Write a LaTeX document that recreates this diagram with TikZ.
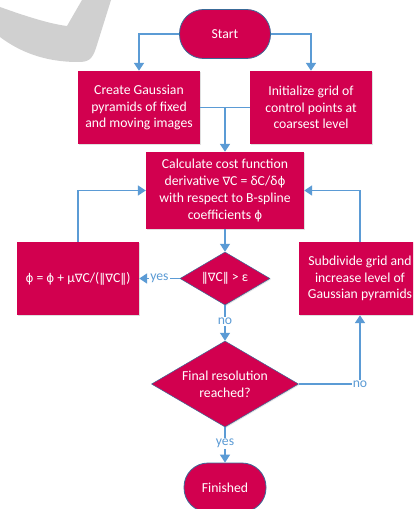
\documentclass[tikz,border=0pt]{standalone}
\usepackage{fontspec}
\setmainfont{Carlito}
\newfontfamily\symf{DejaVu Sans}
\usetikzlibrary{arrows.meta,shapes.geometric,shadows}
\definecolor{mag}{HTML}{D2004F}
\definecolor{arrowblue}{HTML}{5B9BD5}
\definecolor{edgeblue}{HTML}{3A6A98}
\definecolor{wmgray}{HTML}{D0D0D0}
\newcommand{\nab}{{\symf\fontsize{11.5bp}{14bp}\selectfont ∇}}
\newcommand{\nrm}{{\symf\fontsize{12bp}{14bp}\selectfont ‖}}
\newcommand{\phis}{{\symf\fontsize{12bp}{14bp}\selectfont ϕ}}
\tikzset{
  every node/.style={font=\fontsize{13.7bp}{16.7bp}\selectfont},
  procbox/.style={rectangle, fill=mag, text=white, align=center, inner sep=0pt,
     minimum width=122bp, minimum height=73bp,
     drop shadow={shadow xshift=1.2bp, shadow yshift=-1.2bp, opacity=0.25}},
  termbox/.style={rectangle, rounded corners=24bp, fill=mag, draw=edgeblue, line width=0.8bp,
     text=white, inner sep=0pt, minimum height=49bp},
  decbox/.style={diamond, fill=mag, draw=edgeblue, line width=0.5bp, inner sep=0pt,
     drop shadow={shadow xshift=1bp, shadow yshift=-1bp, opacity=0.2}},
  dectext/.style={text=white, align=center, inner sep=0pt},
  conn/.style={draw=arrowblue, line width=1.6bp, -{Triangle[width=10bp,length=8bp]}},
  plainconn/.style={draw=arrowblue, line width=1.6bp},
  lbl/.style={text=arrowblue, fill=white, inner sep=1bp}
}
\begin{document}
\begin{tikzpicture}[x=1bp,y=-1bp]
\clip (0,0) rectangle (413,509);
\fill[white] (0,0) rectangle (413,509);
% watermark
\fill[wmgray] (0,7) .. controls (25,16) and (50,24) .. (67,26) -- (82,0) -- (111,0)
  -- (96,48) .. controls (92,60) and (88,62) .. (78,62)
  .. controls (45,62) and (20,52) .. (0,37) -- cycle;

\node[termbox, minimum width=91bp] (start) at (225,34) {Start};
\node[procbox] (create) at (139,107.5) {Create Gaussian\\pyramids of fixed\\and moving images};
\node[procbox] (init) at (311,107.5) {Initialize grid of\\control points at\\coarsest level};
\node[procbox, minimum width=158bp, minimum height=77bp] (calc) at (225,190.5)
  {Calculate cost function\\derivative \nab C = δC/δ\phis\\with respect to B-spline\\coefficients \phis};
\node[decbox, minimum width=90bp, minimum height=53bp] (d1) at (225,278.5) {};
\node[dectext] at (d1) {\nrm\nab C\nrm{} > ε};
\node[procbox] (upd) at (78,278.5) {\phis{} = \phis{} + μ\nab C/(\nrm\nab C\nrm)};
\node[procbox] (sub) at (360,278.5) {Subdivide grid and\\increase level of\\Gaussian pyramids};
\node[decbox, minimum width=147bp, minimum height=86bp] (d2) at (225,384) {};
\node[dectext] at (d2) {Final resolution\\reached?};
\node[termbox, minimum width=82bp] (fin) at (225,487.5) {Finished};

\draw[conn] (start.west) -| (create.north);
\draw[conn] (start.east) -| (init.north);
\draw[plainconn] (create.east) -- (init.west);
\draw[conn] (create.east -| calc.north) -- (calc.north);
\draw[conn] (calc.south) -- (d1.north);
\draw[conn] (d1.west) -- node[lbl] {yes} (upd.east);
\draw[conn] (upd.north) |- (calc.west);
\draw[conn] (sub.north) |- (calc.east);
\draw[conn] (d1.south) -- node[lbl, pos=0.45] {no} (d2.north);
\draw[conn] (d2.east) -| node[lbl, pos=0.5] {no} (sub.south);
\draw[conn] (d2.south) -- node[lbl, pos=0.45] {yes} (fin.north);
\end{tikzpicture}
\end{document}
